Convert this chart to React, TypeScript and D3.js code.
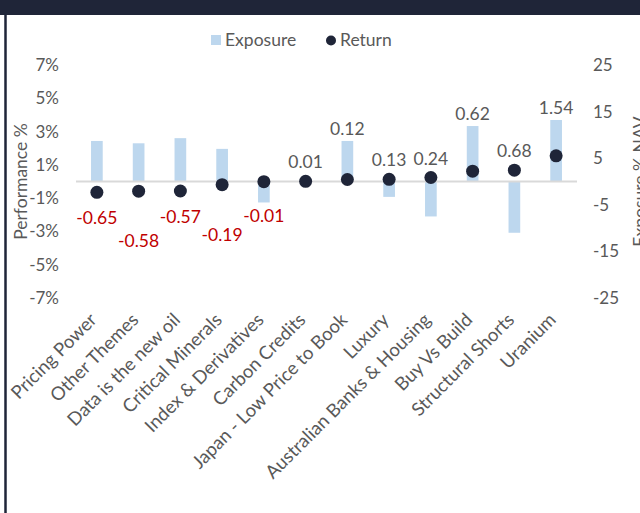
import React, { useEffect, useRef } from "react";
import * as d3 from "d3";

const categories = [
  "Pricing Power",
  "Other Themes",
  "Data is the new oil",
  "Critical Minerals",
  "Index & Derivatives",
  "Carbon Credits",
  "Japan - Low Price to Book",
  "Luxury",
  "Australian Banks & Housing",
  "Buy Vs Build",
  "Structural Shorts",
  "Uranium",
];

// exposure, % NAV (right axis)
const exposure = [8.7, 8.2, 9.3, 7.0, -4.5, 0, 8.7, -3.3, -7.5, 11.9, -11.0, 13.2];

// return, % (left axis)
const returns = [-0.65, -0.58, -0.57, -0.19, -0.01, 0.01, 0.12, 0.13, 0.24, 0.62, 0.68, 1.54];

const leftTicks = [7, 5, 3, 1, -1, -3, -5, -7];
const rightTicks = [25, 15, 5, -5, -15, -25];

const navy = "#1f2538";
const barColor = "#bdd7ee";
const grey = "#595959";
const red = "#c00000";
const font = "Lato, 'Open Sans', sans-serif";

const ExposureReturnChart = () => {
  const width = 640;
  const height = 513;
  const ref = useRef(null);

  useEffect(() => {
    const svg = d3.select(ref.current);
    svg.selectAll("*").remove();

    const plot = { left: 76, right: 577, top: 65, bottom: 298 };

    const x = d3
      .scaleBand()
      .domain(categories)
      .range([plot.left, plot.right])
      .paddingInner(0.72)
      .paddingOuter(0.36);
    const yL = d3.scaleLinear().domain([-7, 7]).range([plot.bottom, plot.top]);
    const yR = d3.scaleLinear().domain([-25, 25]).range([plot.bottom, plot.top]);
    const cx = (c) => x(c) + x.bandwidth() / 2;

    // frame
    svg.append("rect").attr("x", 0).attr("y", 0).attr("width", width).attr("height", 15).attr("fill", navy);
    svg
      .append("line")
      .attr("x1", 5.5)
      .attr("x2", 5.5)
      .attr("y1", 15)
      .attr("y2", height)
      .attr("stroke", navy)
      .attr("stroke-width", 2.5);

    // legend
    const legend = svg.append("g").attr("font-family", font).attr("font-size", 17.5).attr("fill", grey);
    legend.append("rect").attr("x", 211).attr("y", 35).attr("width", 10).attr("height", 10).attr("fill", barColor);
    legend.append("text").attr("x", 225).attr("y", 46).text("Exposure");
    legend.append("circle").attr("cx", 331).attr("cy", 40.5).attr("r", 5).attr("fill", navy);
    legend.append("text").attr("x", 340).attr("y", 46).text("Return");

    // left axis labels
    svg
      .append("g")
      .selectAll("text")
      .data(leftTicks)
      .enter()
      .append("text")
      .attr("x", 59)
      .attr("y", (d) => yL(d))
      .attr("dy", "0.35em")
      .attr("text-anchor", "end")
      .attr("font-family", font)
      .attr("font-size", 17)
      .attr("fill", grey)
      .text((d) => `${d}%`);

    // right axis labels
    svg
      .append("g")
      .selectAll("text")
      .data(rightTicks)
      .enter()
      .append("text")
      .attr("x", 593)
      .attr("y", (d) => yR(d))
      .attr("dy", "0.35em")
      .attr("font-family", font)
      .attr("font-size", 17)
      .attr("fill", grey)
      .text((d) => `${d}`);

    // axis titles
    svg
      .append("text")
      .attr("transform", `translate(27,${yL(0)}) rotate(-90)`)
      .attr("text-anchor", "middle")
      .attr("font-family", font)
      .attr("font-size", 17.5)
      .attr("fill", grey)
      .text("Performance %");
    // sits partly past the right edge, as in the original
    svg
      .append("text")
      .attr("transform", `translate(646,${yL(0)}) rotate(-90)`)
      .attr("text-anchor", "middle")
      .attr("font-family", font)
      .attr("font-size", 17.5)
      .attr("fill", grey)
      .text("Exposure % NAV");

    // exposure bars
    svg
      .append("g")
      .selectAll("rect")
      .data(categories)
      .enter()
      .append("rect")
      .attr("x", (d) => x(d))
      .attr("width", x.bandwidth())
      .attr("y", (d, i) => Math.min(yR(exposure[i]), yR(0)))
      .attr("height", (d, i) => Math.abs(yR(exposure[i]) - yR(0)))
      .attr("fill", barColor);

    // zero line
    svg
      .append("line")
      .attr("x1", plot.left)
      .attr("x2", plot.right)
      .attr("y1", yL(0))
      .attr("y2", yL(0))
      .attr("stroke", "#d9d9d9")
      .attr("stroke-width", 2);

    // return dots
    svg
      .append("g")
      .selectAll("circle")
      .data(categories)
      .enter()
      .append("circle")
      .attr("cx", cx)
      .attr("cy", (d, i) => yL(returns[i]))
      .attr("r", 6.5)
      .attr("fill", navy);

    // data labels: above for gains, below for losses, nudged apart when they collide
    const placed = [];
    svg
      .append("g")
      .selectAll("text")
      .data(categories)
      .enter()
      .append("text")
      .attr("x", cx)
      .attr("dy", "0.35em")
      .attr("text-anchor", "middle")
      .attr("font-family", font)
      .attr("font-size", 17.5)
      .attr("fill", (d, i) => (returns[i] < 0 ? red : grey))
      .text((d, i) => returns[i].toFixed(2))
      .each(function (d, i) {
        const v = returns[i];
        const dotY = yL(v);
        const barY = yR(exposure[i]);
        const dir = v >= 0 ? -1 : 1;
        let y = v >= 0 ? Math.min(dotY - 7, barY) - 12 : Math.max(dotY + 26, barY + 13);
        const w = this.getComputedTextLength();
        const px = cx(d);
        let hit = true;
        while (hit) {
          hit = placed.some((p) => Math.abs(p.x - px) < (p.w + w) / 2 + 4 && Math.abs(p.y - y) < 13);
          if (hit) y += dir * 24;
        }
        placed.push({ x: px, y, w });
        d3.select(this).attr("y", y);
      });

    // category labels
    svg
      .append("g")
      .selectAll("text")
      .data(categories)
      .enter()
      .append("text")
      .attr("transform", (d) => `translate(${cx(d) + 1},321) rotate(-45)`)
      .attr("text-anchor", "end")
      .attr("font-family", font)
      .attr("font-size", 18.5)
      .attr("fill", grey)
      .text((d) => d);
  }, [height, width]);

  return (
    <svg
      ref={ref}
      width={width}
      height={height}
      style={{ position: "absolute", left: 0, top: 0, background: "#fff" }}
    />
  );
};

export default function App() {
  return <ExposureReturnChart />;
}
